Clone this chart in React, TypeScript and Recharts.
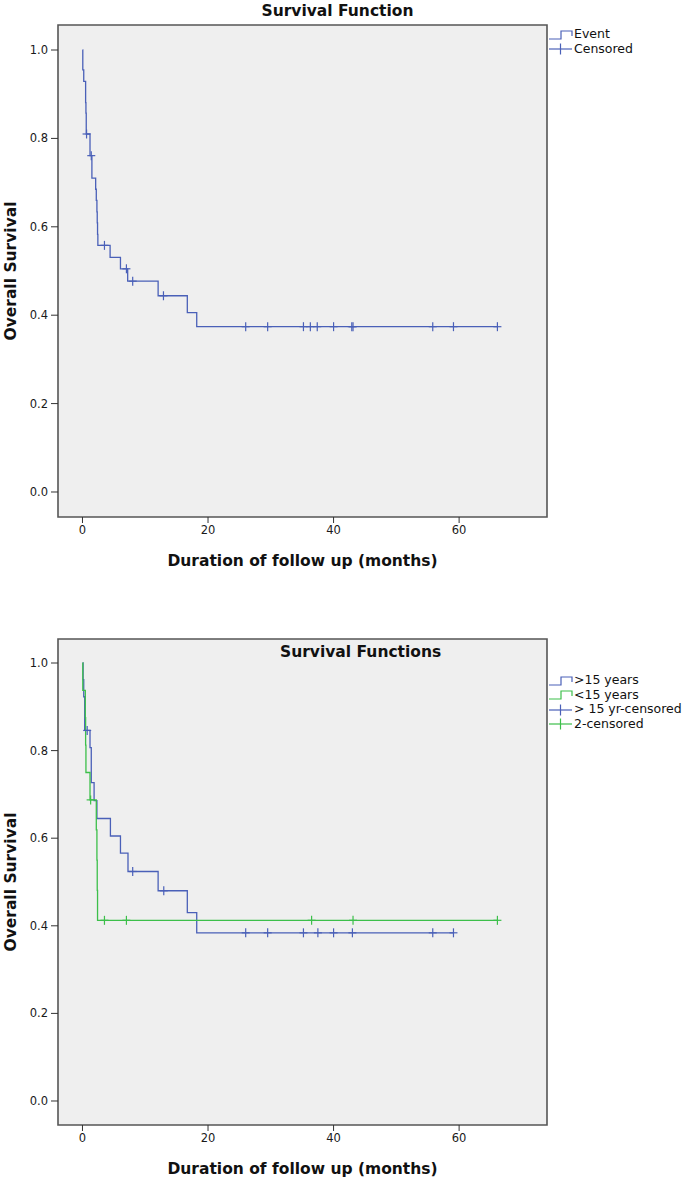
import React from "react";
import { ComposedChart, Line, Scatter, XAxis, YAxis, CartesianGrid, ReferenceArea, Label, Legend } from "recharts";

// axis ticks
const xTicks = [0, 20, 40, 60];
const yTicks = [0, 0.2, 0.4, 0.6, 0.8, 1.0];

// survival function, all patients
const allTimes = [0, 0.05, 0.2, 0.5, 0.55, 0.6, 1.2, 1.5, 2.1, 2.2, 2.3, 2.35, 2.4, 2.45, 4.4, 6.05, 7.2, 12.05, 16.7, 18.2, 66.1];
const allSurv = [1.0, 0.955, 0.929, 0.881, 0.857, 0.81, 0.761, 0.71, 0.685, 0.66, 0.634, 0.609, 0.583, 0.558, 0.531, 0.505, 0.477, 0.444, 0.406, 0.374, 0.374];
const allCensTimes = [0.65, 1.4, 3.5, 7.0, 8.0, 12.9, 26.0, 29.5, 35.2, 36.3, 37.4, 40.0, 42.9, 43.1, 55.8, 59.1, 66.1];
const allCensSurv = [0.81, 0.761, 0.558, 0.505, 0.477, 0.444, 0.374, 0.374, 0.374, 0.374, 0.374, 0.374, 0.374, 0.374, 0.374, 0.374, 0.374];

// > 15 years
const olderTimes = [0, 0.1, 0.2, 0.35, 1.2, 1.4, 1.85, 2.3, 4.45, 6.05, 7.25, 12.05, 16.7, 18.2, 59.1];
const olderSurv = [1.0, 0.962, 0.923, 0.846, 0.807, 0.727, 0.686, 0.645, 0.605, 0.566, 0.524, 0.48, 0.43, 0.384, 0.384];
const olderCensTimes = [0.75, 8.0, 12.95, 26.0, 29.5, 35.2, 37.5, 40.0, 43.0, 55.8, 59.1];
const olderCensSurv = [0.846, 0.524, 0.48, 0.384, 0.384, 0.384, 0.384, 0.384, 0.384, 0.384, 0.384];

// < 15 years
const youngerTimes = [0, 0.05, 0.45, 0.5, 0.55, 1.2, 2.2, 2.3, 2.35, 2.4, 66.1];
const youngerSurv = [1.0, 0.9375, 0.875, 0.8125, 0.75, 0.6875, 0.619, 0.55, 0.481, 0.4125, 0.4125];
const youngerCensTimes = [1.3, 3.5, 7.0, 36.5, 43.1, 66.1];
const youngerCensSurv = [0.6875, 0.4125, 0.4125, 0.4125, 0.4125, 0.4125];

const BLUE = "#4a60b8";
const GREEN = "#3cbf4a";
const FONT = "'DejaVu Sans', sans-serif";
const X_DOMAIN = [-3.9, 74];

const pts = (t: number[], s: number[]) => t.map((x, i) => ({ t: x, s: s[i] }));

function plus(color: string) {
  return (p: any) => (
    <g>
      <line x1={p.cx - 4} x2={p.cx + 4} y1={p.cy} y2={p.cy} stroke={color} strokeWidth={1.2} />
      <line x1={p.cx} x2={p.cx} y1={p.cy - 4.5} y2={p.cy + 4.5} stroke={color} strokeWidth={1.2} />
    </g>
  );
}

function StepIcon({ color }: { color: string }) {
  return (
    <svg width={26} height={12} style={{ verticalAlign: "middle" }}>
      <path d="M1 10 H13 V2 H24 V7" fill="none" stroke={color} strokeWidth={1.2} />
    </svg>
  );
}

function PlusIcon({ color }: { color: string }) {
  return (
    <svg width={26} height={12} style={{ verticalAlign: "middle" }}>
      <line x1={1} x2={24} y1={6} y2={6} stroke={color} strokeWidth={1.2} />
      <line x1={12.5} x2={12.5} y1={0.5} y2={11.5} stroke={color} strokeWidth={1.2} />
    </svg>
  );
}

type Item = { label: string; color: string; kind: "step" | "plus" };

function legendContent(items: Item[]) {
  return () => (
    <div style={{ fontFamily: FONT, fontSize: 12.5, color: "#111", lineHeight: "14.5px" }}>
      {items.map((it) => (
        <div key={it.label} style={{ whiteSpace: "nowrap" }}>
          {it.kind === "step" ? <StepIcon color={it.color} /> : <PlusIcon color={it.color} />}
          <span>{it.label}</span>
        </div>
      ))}
    </div>
  );
}

const yTitle = (p: any) => {
  const vb = p.viewBox;
  const cx = 11;
  const cy = vb.y + vb.height / 2;
  return (
    <text x={cx} y={cy} transform={`rotate(-90 ${cx} ${cy})`} textAnchor="middle" dominantBaseline="central"
      fontFamily={FONT} fontWeight="bold" fontSize={15.5} fill="#111">
      Overall Survival
    </text>
  );
};

const xTitle = (p: any) => {
  const vb = p.viewBox;
  return (
    <text x={vb.x + vb.width / 2} y={vb.y + 49} textAnchor="middle" fontFamily={FONT} fontWeight="bold" fontSize={15.5} fill="#111">
      Duration of follow up (months)
    </text>
  );
};

type Curve = { times: number[]; surv: number[]; censT: number[]; censS: number[]; color: string; name: string };

function KMPlot({ height, xAxisHeight, yPad, curves, legend, legendTop }: {
  height: number; xAxisHeight: number; yPad: number; curves: Curve[]; legend: Item[]; legendTop: number;
}) {
  const yMin = -yPad;
  const yMax = 1 + yPad;
  return (
    <ComposedChart width={685} height={height} margin={{ top: 25, right: 138, bottom: 0, left: 0 }}>
      <CartesianGrid fill="#efefef" horizontal={false} vertical={false} />
      <XAxis type="number" dataKey="t" domain={X_DOMAIN} ticks={xTicks} allowDataOverflow height={xAxisHeight}
        axisLine={false} tickLine={{ stroke: "#333" }} tickSize={6} tickMargin={3}
        tick={{ fill: "#1a1a1a", fontSize: 11.5, fontFamily: FONT }}>
        <Label content={xTitle} />
      </XAxis>
      <YAxis type="number" domain={[yMin, yMax]} ticks={yTicks} allowDataOverflow width={58}
        axisLine={false} tickLine={{ stroke: "#333" }} tickSize={7} tickMargin={3}
        tickFormatter={(v: number) => v.toFixed(1)}
        tick={{ fill: "#1a1a1a", fontSize: 11.5, fontFamily: FONT }}>
        <Label content={yTitle} />
      </YAxis>
      <ReferenceArea x1={X_DOMAIN[0]} x2={X_DOMAIN[1]} y1={yMin} y2={yMax} fill="none" stroke="#555" strokeWidth={1.6} ifOverflow="visible" />
      {curves.map((c) => (
        <Line key={c.name} name={c.name} data={pts(c.times, c.surv)} dataKey="s" type="stepAfter" stroke={c.color}
          strokeWidth={1.3} dot={false} isAnimationActive={false} legendType="none" />
      ))}
      {curves.map((c) => (
        <Scatter key={c.name + "-c"} name={c.name + " censored"} data={pts(c.censT, c.censS)} dataKey="s"
          shape={plus(c.color)} isAnimationActive={false} legendType="none" />
      ))}
      <Legend layout="vertical" align="center" verticalAlign="middle" content={legendContent(legend)}
        wrapperStyle={{ left: 548, top: legendTop, width: 137 }} />
    </ComposedChart>
  );
}

export default function App() {
  return (
    <div style={{ position: "absolute", left: 0, top: 0, width: 685, height: 1187, background: "#fff", fontFamily: FONT }}>
      <div style={{ position: "absolute", left: 0, top: 0 }}>
        <KMPlot height={580} xAxisHeight={63} yPad={0.0566}
          curves={[{ times: allTimes, surv: allSurv, censT: allCensTimes, censS: allCensSurv, color: BLUE, name: "Event" }]}
          legend={[{ label: "Event", color: BLUE, kind: "step" }, { label: "Censored", color: BLUE, kind: "plus" }]}
          legendTop={27} />
      </div>
      <div style={{ position: "absolute", left: 0, top: 2, width: 685, textAlign: "center", fontWeight: "bold", fontSize: 15.5, color: "#111" }}>
        <span style={{ position: "relative", left: -5 }}>Survival Function</span>
      </div>
      <div style={{ position: "absolute", left: 0, top: 614 }}>
        <KMPlot height={573} xAxisHeight={62} yPad={0.0548}
          curves={[
            { times: olderTimes, surv: olderSurv, censT: olderCensTimes, censS: olderCensSurv, color: BLUE, name: ">15 years" },
            { times: youngerTimes, surv: youngerSurv, censT: youngerCensTimes, censS: youngerCensSurv, color: GREEN, name: "<15 years" },
          ]}
          legend={[
            { label: ">15 years", color: BLUE, kind: "step" },
            { label: "<15 years", color: GREEN, kind: "step" },
            { label: "> 15 yr-censored", color: BLUE, kind: "plus" },
            { label: "2-censored", color: GREEN, kind: "plus" },
          ]}
          legendTop={59} />
      </div>
      <div style={{ position: "absolute", left: 280, top: 643, fontWeight: "bold", fontSize: 15.5, color: "#111", whiteSpace: "nowrap" }}>
        Survival Functions
      </div>
    </div>
  );
}
